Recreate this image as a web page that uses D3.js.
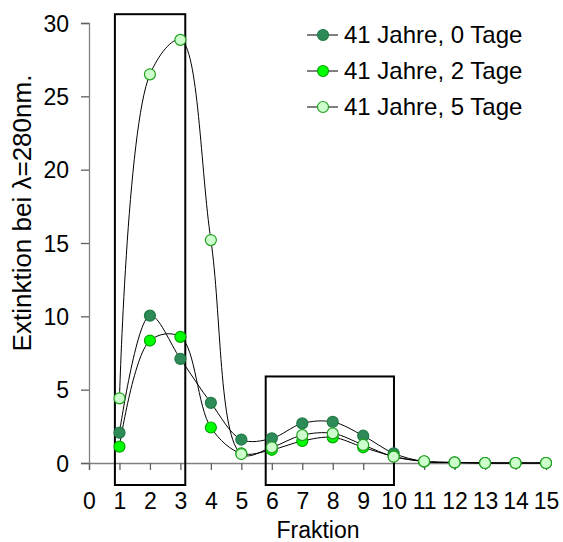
<!DOCTYPE html>
<html><head><meta charset="utf-8">
<script src="https://cdn.jsdelivr.net/npm/d3@7"></script>
<style>body{margin:0;background:#fff}svg{display:block}text{font-family:"Liberation Sans",Arial,sans-serif;fill:#000}</style>
</head><body><svg id="c" width="563" height="542"></svg>
<script>
const fractions = [1,2,3,4,5,6,7,8,9,10,11,12,13,14,15];
const seriesNames = ["41 Jahre, 0 Tage","41 Jahre, 2 Tage","41 Jahre, 5 Tage"];
const days0 = [2.07,10.05,7.1,4.1,1.6,1.68,2.7,2.8,1.86,0.66,0.1,0.03,0,0,0];
const days2 = [1.12,8.35,8.6,2.42,0.65,0.9,1.5,1.75,1.07,0.45,0.1,0.03,0,0,0];
const days5 = [4.41,26.5,28.85,15.2,0.61,1.07,1.9,2.02,1.23,0.43,0.12,0.04,0,0,0];
const xTicks = d3.range(0,16);
const yTicks = [0,5,10,15,20,25,30];
const boxes = [{x0:0.85,x1:3.16,y0:-1.5,y1:30.6},{x0:5.8,x1:10.01,y0:-1.5,y1:5.9}];
const fills = ["#2E8B57","#00FF00","#CCFFCC"];
const strokes = ["#1F7A45","#00A800","#22A022"];

const svg = d3.select("#c");
const x = d3.scaleLinear().domain([0,15]).range([89,546]);
const y = d3.scaleLinear().domain([0,30]).range([463,23]);

const FS = 23;
// axes
const gx = svg.append("g").attr("transform","translate(0,463)")
  .call(d3.axisBottom(x).tickValues(xTicks).tickSize(7).tickFormat(d3.format("d")));
const gy = svg.append("g").attr("transform","translate(89,0)")
  .call(d3.axisLeft(y).tickValues(yTicks).tickSize(8).tickPadding(12));
[gx,gy].forEach(g=>{
  g.select(".domain").attr("stroke","#808080").attr("stroke-width",1.3);
  g.selectAll(".tick line").attr("stroke","#606060").attr("stroke-width",1.3);
  g.selectAll("text").attr("font-size",FS).attr("font-family","Liberation Sans, Arial, sans-serif").attr("fill","#000");
});
gx.selectAll(".tick text").attr("y",46).attr("dy","0");
gy.selectAll(".tick text").attr("dy","0.36em");

svg.append("text").attr("x",318).attr("y",538).attr("text-anchor","middle").attr("font-size",FS).text("Fraktion");
svg.append("text").attr("transform","translate(31,213) rotate(-90)").attr("text-anchor","middle").attr("font-size",26).text("Extinktion bei λ=280nm.");

const data = [days0,days2,days5];
const line = d3.line().x((d,i)=>x(fractions[i])).y(d=>y(d)).curve(d3.curveCatmullRom.alpha(0.5));
data.forEach((s,k)=>{
  svg.append("path").attr("d",line(s)).attr("fill","none").attr("stroke","#000").attr("stroke-width",1);
});
// boxes
svg.selectAll("rect.box").data(boxes).enter().append("rect")
  .attr("x",d=>x(d.x0)).attr("y",d=>y(d.y1))
  .attr("width",d=>x(d.x1)-x(d.x0)).attr("height",d=>y(d.y0)-y(d.y1))
  .attr("fill","none").attr("stroke","#000").attr("stroke-width",2);
data.forEach((s,k)=>{
  svg.append("g").selectAll("circle").data(s).enter().append("circle")
    .attr("cx",(d,i)=>x(fractions[i])).attr("cy",d=>y(d)).attr("r",5.5)
    .attr("fill",fills[k]).attr("stroke",strokes[k]).attr("stroke-width",1.2);
});

// legend
const lg = svg.append("g");
seriesNames.forEach((n,k)=>{
  const yy = 35 + k*36;
  lg.append("line").attr("x1",307).attr("x2",338).attr("y1",yy).attr("y2",yy).attr("stroke","#000").attr("stroke-width",1);
  lg.append("circle").attr("cx",323).attr("cy",yy).attr("r",5.5).attr("fill",fills[k]).attr("stroke",strokes[k]).attr("stroke-width",1.2);
  lg.append("text").attr("x",344).attr("y",yy+8).attr("font-size",24).text(n);
});
</script></body></html>
